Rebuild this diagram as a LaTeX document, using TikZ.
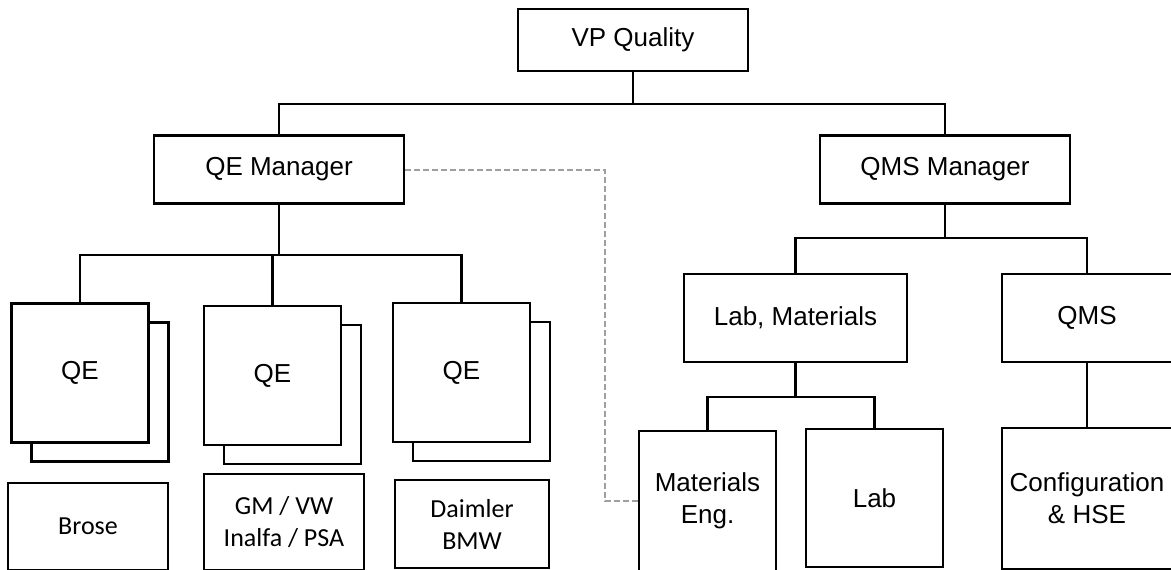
\documentclass[tikz,border=0pt]{standalone}
\usepackage{fontspec}
\usetikzlibrary{shadows}
\newfontfamily\arialfont{Liberation Sans}
\newfontfamily\calibrifont{Carlito}
\tikzset{
    box/.style = {
        rectangle, draw=black, line width=2.2pt, fill=white,
        inner sep=0pt, align=center,
        font=\arialfont\fontsize{26pt}{32pt}\selectfont
    },
    head/.style = {box, minimum width=250pt, minimum height=68pt},
    qebox/.style = {
        box, minimum width=137pt, minimum height=139pt,
        copy shadow={shadow xshift=20pt, shadow yshift=-19pt, draw=black, line width=2.2pt}
    },
    client/.style = {
        box, minimum width=160pt, minimum height=90pt,
        font=\calibrifont\fontsize{26pt}{32pt}\selectfont
    },
    dept/.style = {box, minimum width=170pt, minimum height=88pt},
    team/.style = {box, minimum width=137pt, minimum height=139pt},
    link/.style = {draw=black, line width=2.2pt},
    dashlink/.style = {draw=gray!75, line width=2pt, dash pattern=on 6pt off 3pt}
}

\begin{document}
\begin{tikzpicture}[node distance=150pt]
        \path [use as bounding box] (0,0) rectangle (1171pt,-570pt);

        % Draw blocks
        \node (vp) [head, minimum width=230pt, minimum height=62pt] at (633pt,-40pt) {VP Quality};
        \node (qem) [head, below of=vp, xshift=-354pt, yshift=20.5pt] {QE Manager};
        \node (qmsm) [head, right of=qem, xshift=516pt] {QMS Manager};

        \node (qe1) [qebox, below of=qem, xshift=-199pt, yshift=-53.5pt] {QE};
        \node (qe2) [qebox, right of=qe1, xshift=42.5pt, yshift=-2.5pt] {QE};
        \node (qe3) [qebox, right of=qe2, xshift=39pt, yshift=3pt] {QE};

        \node (brose) [client, below of=qe1, xshift=8pt, yshift=-3.5pt, minimum height=87pt] {Brose};
        \node (gm) [client, below of=qe2, xshift=11.5pt, yshift=3.5pt, minimum height=96pt] {GM / VW\\Inalfa / PSA};
        \node (daimler) [client, below of=qe3, xshift=10.5pt, yshift=-1.5pt, minimum width=154pt, minimum height=88pt] {Daimler\\BMW};

        \node (labmat) [dept, below of=qmsm, xshift=-149.5pt, yshift=1.5pt, minimum width=223pt] {Lab, Materials};
        \node (qms) [dept, right of=labmat, xshift=141.5pt] {QMS};

        \node (mateng) [team, below of=labmat, xshift=-88pt, yshift=-33pt, minimum height=140pt] {Materials\\Eng.};
        \node (lab) [team, below of=labmat, xshift=79pt, yshift=-30pt, minimum height=138pt] {Lab};
        \node (config) [team, below of=qms, yshift=-30.5pt, minimum width=170pt, minimum height=141pt] {Configuration\\\& HSE};

        % Draw connectors
        \foreach \n in {qem,qmsm}
            \draw [link] (vp.south) -- ++(0,-32pt) -| (\n.north);
        \foreach \n in {qe1,qe2,qe3}
            \draw [link] (qem.south) -- ++(0,-50pt) -| (\n.north);
        \foreach \n in {labmat,qms}
            \draw [link] (qmsm.south) -- ++(0,-33pt) -| (\n.north);
        \foreach \n in {mateng,lab}
            \draw [link] (labmat.south) -- ++(0,-34pt) -| (\n.north);
        \draw [link] (qms) -- (config);
        \draw [dashlink] (qem.east) -- ++(200pt,0) |- (mateng.west);
    \end{tikzpicture}
\end{document}
